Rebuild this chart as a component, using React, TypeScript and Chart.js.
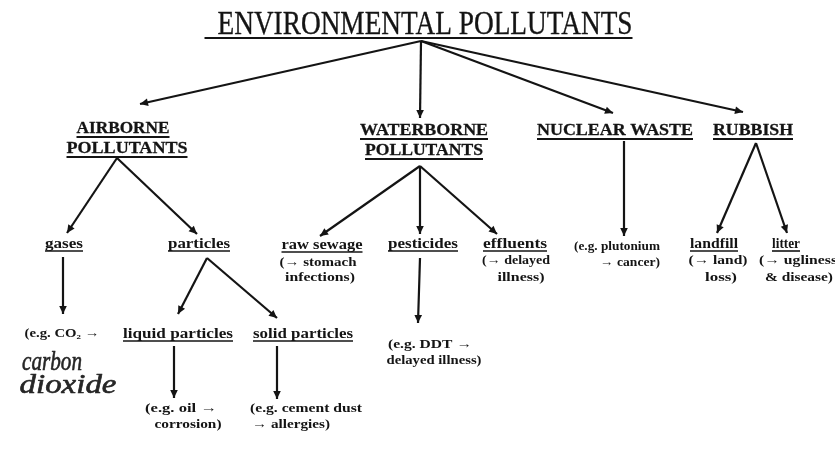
import React, { useEffect, useRef } from "react";
import { Chart, registerables } from "chart.js";

Chart.register(...registerables);

// ---- Diagram data ----
// Label texts (one entry per text line)
const labelText: string[] = [
  "ENVIRONMENTAL POLLUTANTS",
  "AIRBORNE", "POLLUTANTS",
  "WATERBORNE", "POLLUTANTS",
  "NUCLEAR WASTE",
  "RUBBISH",
  "gases",
  "particles",
  "raw sewage", "(→ stomach", "infections)",
  "pesticides",
  "effluents", "(→ delayed", "illness)",
  "(e.g. plutonium", "→ cancer)",
  "landfill", "(→ land)", "loss)",
  "litter", "(→ ugliness", "& disease)",
  "(e.g. CO₂ →",
  "liquid particles",
  "solid particles",
  "(e.g. DDT →", "delayed illness)",
  "(e.g. oil →", "corrosion)",
  "(e.g. cement dust", "→ allergies)",
  "carbon", "dioxide",
];
// Role of each line: title, head, sub (underlined), note, hand (handwritten)
const labelKind: string[] = [
  "title",
  "head", "head",
  "head", "head",
  "head",
  "head",
  "sub",
  "sub",
  "sub", "note", "note",
  "sub",
  "sub", "note", "note",
  "note", "note",
  "sub", "note", "note",
  "sub", "note", "note",
  "note",
  "sub",
  "sub",
  "note", "note",
  "note", "note",
  "note", "note",
  "hand", "hand",
];

// ---- Layout (diagram coordinates) ----
const labelX: number[] = [
  425,
  123, 127,
  424, 424,
  615,
  753,
  64,
  199,
  322, 318, 320,
  423,
  515, 516, 521,
  617, 630,
  714, 718, 721,
  786, 798, 799,
  62,
  178,
  303,
  430, 434,
  181, 188,
  306, 291,
  52, 68,
];
const labelY: number[] = [
  34,
  133, 153,
  135, 155,
  135,
  135,
  248,
  248,
  249, 266, 281,
  248,
  248, 264, 281,
  250, 266,
  248, 264, 281,
  248, 264, 281,
  337,
  338,
  338,
  348, 364,
  412, 428,
  412, 428,
  370, 393,
];
const labelW: number[] = [
  415,
  93, 121,
  128, 118,
  156,
  80,
  38,
  62,
  81, 77, 70,
  70,
  64, 68, 47,
  86, 60,
  48, 59, 32,
  28, 78, 68,
  75,
  110,
  100,
  84, 95,
  72, 67,
  112, 78,
  60, 97,
];

// Arrows: start point -> end point (arrow head at end)
const edgeX1: number[] = [421, 421, 421, 421, 117, 117, 420, 420, 420, 624, 756, 756, 63, 207, 207, 174, 277, 420];
const edgeY1: number[] = [41, 41, 41, 41, 158, 158, 166, 166, 166, 141, 143, 143, 257, 258, 258, 346, 346, 258];
const edgeX2: number[] = [140, 420, 613, 743, 67, 197, 320, 420, 497, 624, 717, 787, 63, 178, 277, 174, 277, 418];
const edgeY2: number[] = [104, 118, 113, 112, 233, 234, 236, 234, 234, 236, 233, 233, 314, 314, 318, 398, 399, 323];

const INK = "#141414";

const fonts: Record<string, string> = {
  title: "34px 'Liberation Serif', 'Times New Roman', serif",
  head: "bold 17px 'Liberation Serif', 'Times New Roman', serif",
  sub: "bold 14px 'Liberation Serif', 'Times New Roman', serif",
  note: "bold 12.5px 'Liberation Serif', 'Times New Roman', serif",
  hand: "italic 27px 'Liberation Serif', 'Times New Roman', serif",
};
const strokes: Record<string, number> = { title: 0.35, head: 0.3, sub: 0, note: 0, hand: 0.6 };

const diagramPlugin = {
  id: "diagramPlugin",
  afterDatasetsDraw(chart: any) {
    const ctx: CanvasRenderingContext2D = chart.ctx;
    const xs = chart.scales.x;
    const ys = chart.scales.y;
    ctx.save();
    // arrow heads
    ctx.fillStyle = INK;
    for (let i = 0; i < edgeX1.length; i++) {
      const x1 = xs.getPixelForValue(edgeX1[i]);
      const y1 = ys.getPixelForValue(edgeY1[i]);
      const x2 = xs.getPixelForValue(edgeX2[i]);
      const y2 = ys.getPixelForValue(edgeY2[i]);
      const a = Math.atan2(y2 - y1, x2 - x1);
      const len = 8;
      const hw = 3.8;
      ctx.beginPath();
      ctx.moveTo(x2, y2);
      ctx.lineTo(x2 - len * Math.cos(a) + hw * Math.sin(a), y2 - len * Math.sin(a) - hw * Math.cos(a));
      ctx.lineTo(x2 - len * Math.cos(a) - hw * Math.sin(a), y2 - len * Math.sin(a) + hw * Math.cos(a));
      ctx.closePath();
      ctx.fill();
    }
    // labels
    ctx.textAlign = "center";
    ctx.textBaseline = "alphabetic";
    ctx.lineJoin = "round";
    for (let i = 0; i < labelText.length; i++) {
      const kind = labelKind[i];
      const px = xs.getPixelForValue(labelX[i]);
      const py = ys.getPixelForValue(labelY[i]);
      const w = xs.getPixelForValue(labelX[i] + labelW[i] / 2) - px;
      ctx.font = fonts[kind];
      const col = kind === "hand" ? "#262626" : INK;
      ctx.fillStyle = col;
      ctx.strokeStyle = col;
      const m = ctx.measureText(labelText[i]).width;
      const s = (2 * w) / m;
      ctx.save();
      ctx.translate(px, py);
      ctx.scale(s, 1);
      ctx.fillText(labelText[i], 0, 0);
      if (strokes[kind] > 0) {
        ctx.lineWidth = strokes[kind];
        ctx.strokeText(labelText[i], 0, 0);
      }
      ctx.restore();
      if (kind === "title" || kind === "head" || kind === "sub") {
        ctx.strokeStyle = INK;
        ctx.lineWidth = kind === "title" ? 1.8 : kind === "head" ? 2 : 1.6;
        const off = kind === "title" ? 4 : kind === "head" ? 4 : 3;
        const left = kind === "title" ? px - w - 13 : px - w;
        ctx.beginPath();
        ctx.moveTo(left, py + off);
        ctx.lineTo(px + w, py + off);
        ctx.stroke();
      }
    }
    ctx.restore();
  },
};

export default function App() {
  const canvasRef = useRef<HTMLCanvasElement | null>(null);

  useEffect(() => {
    if (!canvasRef.current) return;
    const datasets = edgeX1.map((_, i) => ({
      label: "edge" + i,
      data: [
        { x: edgeX1[i], y: edgeY1[i] },
        { x: edgeX2[i], y: edgeY2[i] },
      ],
      showLine: true,
      borderColor: INK,
      borderWidth: 2.2,
      pointRadius: 0,
      pointHoverRadius: 0,
      fill: false,
    }));
    const chart = new Chart(canvasRef.current, {
      type: "scatter",
      data: { datasets },
      options: {
        animation: false,
        responsive: false,
        devicePixelRatio: 1,
        layout: { padding: 0 },
        events: [],
        plugins: {
          legend: { display: false },
          tooltip: { enabled: false },
        },
        scales: {
          x: { type: "linear", min: 0, max: 835, display: false },
          y: { type: "linear", min: 0, max: 472, reverse: true, display: false },
        },
      },
      plugins: [diagramPlugin],
    } as any);
    return () => chart.destroy();
  }, []);

  return (
    <div style={{ position: "fixed", left: 0, top: 0, width: 835, height: 472, background: "#ffffff" }}>
      <canvas ref={canvasRef} width={835} height={472} style={{ display: "block" }} />
    </div>
  );
}
